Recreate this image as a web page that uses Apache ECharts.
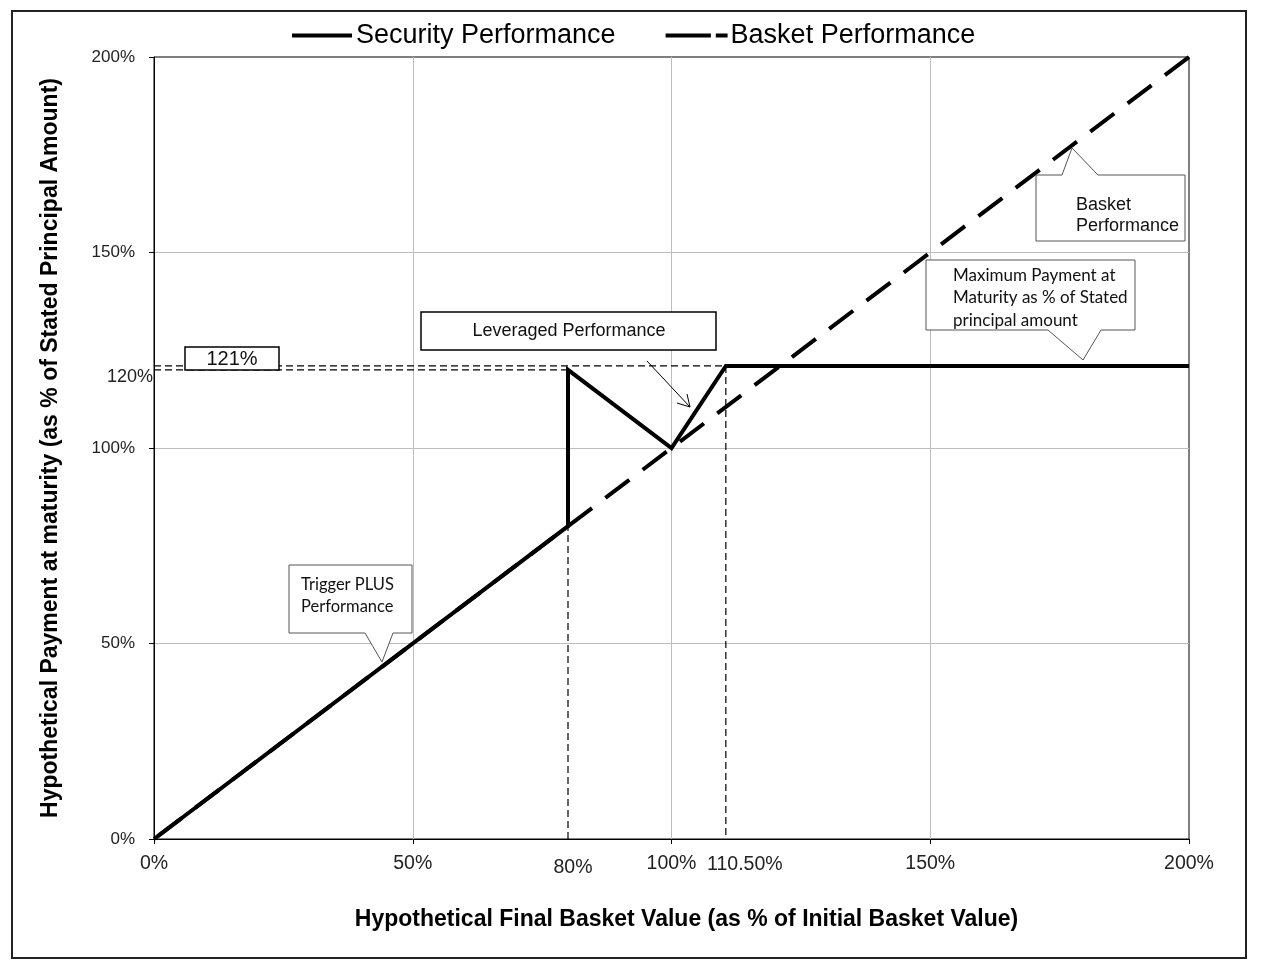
<!DOCTYPE html>
<html><head><meta charset="utf-8">
<script src="https://cdn.jsdelivr.net/npm/echarts@6/dist/echarts.min.js"></script>
<style>html,body{margin:0;padding:0;background:#fff}#c{width:1282px;height:968px}</style>
</head><body><div id="c"></div>
<script>
// ---- data ----
const basketX = [0, 200];
const basketY = [0, 200];
const securityX = [0, 80, 80, 100, 110.5, 200];
const securityY = [0, 80, 120, 100, 121, 121];
const capRefX = [0, 110.5, 110.5];
const capRefY = [121, 121, 0];
const trigRefX = [0, 80];
const trigRefY = [120, 120];
const trigVRefX = [80, 80];
const trigVRefY = [0, 80];
const extraXValues = [80, 110.5];
const extraXTexts = ['80%', '110.50%'];
const extraYValues = [120];
const extraYTexts = ['120%'];
const capText = '121%';
const seriesNames = ['Security Performance', 'Basket Performance'];
const xTitle = 'Hypothetical Final Basket Value (as % of Initial Basket Value)';
const yTitle = 'Hypothetical Payment at maturity (as % of Stated Principal Amount)';

function pairs(xs, ys) { return xs.map((x, i) => [x, ys[i]]); }

const chart = echarts.init(document.getElementById('c'), null, {renderer: 'canvas'});
const refStyle = {color: '#000', width: 1.2, type: [7, 4]};
const calloutStroke = '#555';
const FONT = '"Liberation Sans", Arial';

const option = {
  animation: false,
  backgroundColor: '#fff',
  grid: {left: 154, right: 93, top: 57, bottom: 129, show: true, borderColor: '#000', borderWidth: 1},
  legend: {
    data: [
      {name: seriesNames[0], icon: 'path://M0,0h60v4h-60z'},
      {name: seriesNames[1], icon: 'path://M0,0h46v4h-46zM51,0h12v4h-12z'}
    ],
    top: 17, left: 287, itemWidth: 62, itemHeight: 4, itemGap: 50,
    itemStyle: {color: '#000'},
    textStyle: {fontFamily: FONT, fontSize: 27, color: '#000', padding: [0, 0, 0, -2]}
  },
  xAxis: {
    type: 'value', min: 0, max: 200, interval: 50,
    name: xTitle, nameLocation: 'middle', nameGap: 69,
    nameTextStyle: {fontFamily: FONT, fontSize: 23, fontWeight: 'bold', color: '#000', padding: [0, 0, 0, 30]},
    axisLine: {show: true, lineStyle: {color: '#000', width: 1}},
    axisTick: {show: true, length: 5, lineStyle: {color: '#000'}},
    axisLabel: {formatter: '{value}%', fontFamily: FONT, fontSize: 19.5, color: '#222', margin: 15},
    splitLine: {show: true, showMinLine: false, showMaxLine: false, lineStyle: {color: '#bdbdbd', width: 1}}
  },
  yAxis: {
    type: 'value', min: 0, max: 200, interval: 50,
    name: yTitle, nameLocation: 'middle', nameGap: 92, nameRotate: 90,
    nameTextStyle: {fontFamily: FONT, fontSize: 23, fontWeight: 'bold', color: '#000'},
    axisLine: {show: true, lineStyle: {color: '#000', width: 1}},
    axisTick: {show: true, length: 5, lineStyle: {color: '#000'}},
    axisLabel: {formatter: '{value}%', fontFamily: FONT, fontSize: 17, color: '#222', margin: 19},
    splitLine: {show: true, showMinLine: false, showMaxLine: false, lineStyle: {color: '#bdbdbd', width: 1}}
  },
  series: [
    {name: 'capRef', type: 'line', data: pairs(capRefX, capRefY), symbol: 'none', lineStyle: refStyle, silent: true, z: 1},
    {name: 'trigRef', type: 'line', data: pairs(trigRefX, trigRefY), symbol: 'none', lineStyle: refStyle, silent: true, z: 1},
    {name: 'trigVRef', type: 'line', data: pairs(trigVRefX, trigVRefY), symbol: 'none', lineStyle: refStyle, silent: true, z: 1},
    {name: seriesNames[1], type: 'line', data: pairs(basketX, basketY), symbol: 'none',
     lineStyle: {color: '#000', width: 4, type: [30, 16.75], dashOffset: 42}, itemStyle: {color: '#000'}, z: 2},
    {name: seriesNames[0], type: 'line', data: pairs(securityX, securityY), symbol: 'none',
     lineStyle: {color: '#000', width: 4, join: 'miter'}, itemStyle: {color: '#000'}, z: 3}
  ],
  graphic: [
    {type: 'rect', shape: {x: 12, y: 11, width: 1234, height: 947}, style: {fill: 'none', stroke: '#222', lineWidth: 2}, silent: true, z: 0},
    // Basket Performance callout
    {type: 'polygon', shape: {points: [[1036,175],[1062,175],[1072,148],[1098,175],[1185,175],[1185,241],[1036,241]]},
     style: {fill: '#fff', stroke: calloutStroke, lineWidth: 1}, z: 10},
    {type: 'text', x: 1076, y: 195, style: {text: 'Basket\nPerformance', font: '18px ' + FONT, fill: '#111', lineHeight: 21}, z: 11},
    // Maximum payment callout
    {type: 'polygon', shape: {points: [[926,260],[1135,260],[1135,330],[1101,330],[1083,360],[1048,330],[926,330]]},
     style: {fill: '#fff', stroke: calloutStroke, lineWidth: 1}, z: 10},
    {type: 'text', x: 953, y: 264, style: {text: 'Maximum Payment at\nMaturity as % of Stated\nprincipal amount', font: '17px Lato, "Open Sans"', fill: '#111', lineHeight: 22.5}, z: 11},
    // Trigger PLUS callout
    {type: 'polygon', shape: {points: [[289,565],[412,565],[412,633],[393,633],[382,662],[365,633],[289,633]]},
     style: {fill: '#fff', stroke: calloutStroke, lineWidth: 1}, z: 10},
    {type: 'text', x: 301, y: 574, style: {text: 'Trigger PLUS\nPerformance', font: '16.5px Lato, "Open Sans"', fill: '#111', lineHeight: 22}, z: 11},
    // Leveraged performance box + arrow
    {type: 'rect', shape: {x: 421, y: 312, width: 295, height: 38}, style: {fill: '#fff', stroke: '#000', lineWidth: 1.5}, z: 10},
    {type: 'text', x: 569, y: 331, style: {text: 'Leveraged Performance', font: '18px ' + FONT, fill: '#111', align: 'center', verticalAlign: 'middle'}, z: 11},
    {type: 'line', shape: {x1: 647, y1: 361, x2: 690, y2: 407}, style: {stroke: '#000', lineWidth: 1}, z: 10},
    {type: 'polyline', shape: {points: [[677,403],[690,407],[687,394]]}, style: {stroke: '#000', lineWidth: 1, fill: 'none'}, z: 10},
    // 121% box
    {type: 'rect', shape: {x: 185, y: 347, width: 94, height: 23}, style: {fill: '#fff', stroke: '#000', lineWidth: 1.5}, z: 10},
    {type: 'text', x: 232, y: 359, style: {text: capText, font: '20px ' + FONT, fill: '#111', align: 'center', verticalAlign: 'middle'}, z: 11}
  ]
};
chart.setOption(option);

// extra axis labels placed through the chart's scales
const extra = [];
extraXValues.forEach((v, i) => {
  const p = chart.convertToPixel({gridIndex: 0}, [v, 0]);
  const dx = i === 0 ? 5 : 19;
  const dy = i === 0 ? 29 : 26;
  extra.push({type: 'text', x: p[0] + dx, y: p[1] + dy,
    style: {text: extraXTexts[i], font: '19.5px ' + FONT, fill: '#222', align: 'center', verticalAlign: 'middle'}, z: 11});
});
extraYValues.forEach((v, i) => {
  const p = chart.convertToPixel({gridIndex: 0}, [0, v]);
  extra.push({type: 'text', x: p[0] - 1, y: p[1] + 7,
    style: {text: extraYTexts[i], font: '18px ' + FONT, fill: '#222', align: 'right', verticalAlign: 'middle'}, z: 11});
});
chart.setOption({graphic: option.graphic.concat(extra)});
</script></body></html>
